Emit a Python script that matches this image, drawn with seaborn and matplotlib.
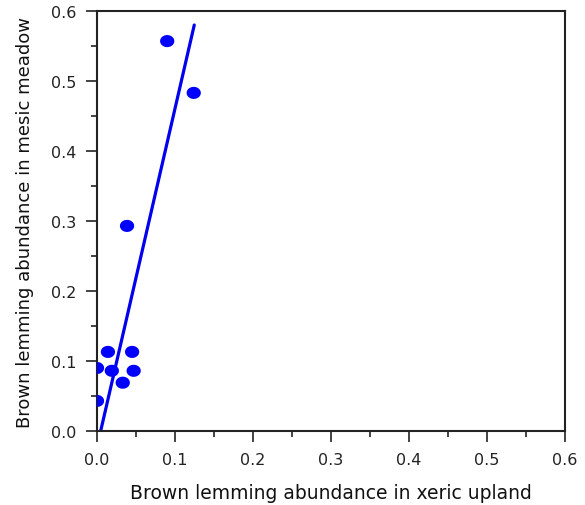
import matplotlib
matplotlib.use("Agg")
import matplotlib.pyplot as plt
import seaborn as sns
import numpy as np
import pandas as pd
from matplotlib.path import Path
from matplotlib.ticker import MultipleLocator

# Data
xeric_upland = [0.090, 0.124, 0.0385, 0.014, 0.045, 0.0, 0.019, 0.047, 0.033, 0.0]
mesic_meadow = [0.557, 0.483, 0.293, 0.113, 0.113, 0.090, 0.086, 0.086, 0.069, 0.043]
fit_x = [0.0047, 0.1247]
fit_y = [0.0, 0.580]
ticks = [0.0, 0.1, 0.2, 0.3, 0.4, 0.5, 0.6]
tick_labels = ["0.0", "0.1", "0.2", "0.3", "0.4", "0.5", "0.6"]

sns.set_style("ticks")
plt.rcParams['font.family'] = ['DejaVu Sans']

df = pd.DataFrame({"x": xeric_upland, "y": mesic_meadow})
fit = pd.DataFrame({"x": fit_x, "y": fit_y})

fig = plt.figure(figsize=(5.85, 5.06), dpi=100)
ax = fig.add_axes([97/585, 74/506, 468/585, 420/506])

# ellipse marker (wider than tall)
t = np.linspace(0, 2*np.pi, 60)
ell = Path(np.column_stack([np.cos(t), 0.85*np.sin(t)]), closed=True)

sns.lineplot(data=fit, x="x", y="y", ax=ax, color="#0000ee", linewidth=2.3, zorder=2)
sns.scatterplot(data=df, x="x", y="y", ax=ax, marker=ell, s=105, color="#0000ff",
                edgecolor="none", linewidth=0, zorder=3)

ax.set_xlim(0, 0.6)
ax.set_ylim(0, 0.6)
ax.set_xticks(ticks)
ax.set_xticklabels(tick_labels)
ax.set_yticks(ticks)
ax.set_yticklabels(tick_labels)
ax.xaxis.set_minor_locator(MultipleLocator(0.05))
ax.yaxis.set_minor_locator(MultipleLocator(0.05))
ax.tick_params(which="major", direction="out", length=8, width=1.2, colors="#222222",
               labelsize=11.5, pad=7, labelcolor="#222222")
ax.tick_params(which="minor", direction="out", length=4, width=1.2, colors="#222222")
for s in ax.spines.values():
    s.set_visible(True)
    s.set_linewidth(1.5)
    s.set_color("#222222")

ax.set_xlabel("Brown lemming abundance in xeric upland", fontsize=13.5, labelpad=12, color="#111111")
ax.set_ylabel("Brown lemming abundance in mesic meadow", fontsize=13, labelpad=12, color="#111111")

fig.savefig("out.png", dpi=100)
